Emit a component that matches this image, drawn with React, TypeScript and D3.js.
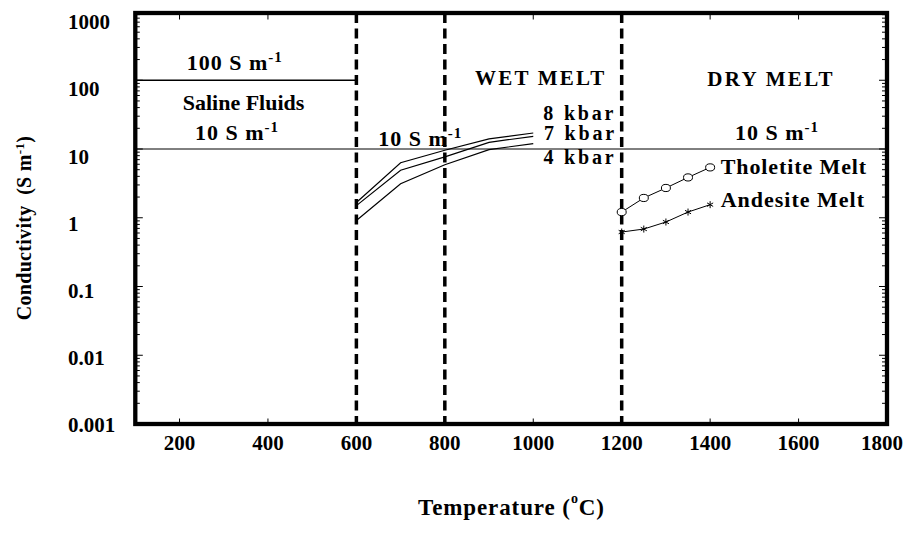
import React from "react";
import * as d3 from "d3";

// ---------- data ----------
const X_TICKS = [200, 400, 600, 800, 1000, 1200, 1400, 1600, 1800];
const Y_TICKS = [0.001, 0.01, 0.1, 1, 10, 100, 1000];
const Y_TICK_LABELS = ["0.001", "0.01", "0.1", "1", "10", "100", "1000"];

const BOUNDARIES = [600, 800, 1200];

const SALINE_HIGH_T = [100, 600];
const SALINE_HIGH_V = [100, 100];
const SALINE_LOW_T = [100, 1800];
const SALINE_LOW_V = [10, 10];

const WET_T = [600, 700, 800, 900, 1000];
const WET_8KBAR = [1.67, 6.3, 9.6, 14.0, 17.1];
const WET_7KBAR = [1.5, 4.9, 7.7, 12.5, 15.3];
const WET_4KBAR = [0.91, 3.13, 5.9, 9.8, 12.0];

const DRY_T = [1200, 1250, 1300, 1350, 1400];
const THOLEIITE = [1.21, 1.94, 2.71, 3.86, 5.4];
const ANDESITE = [0.62, 0.685, 0.867, 1.21, 1.55];

// ---------- layout ----------
const W = 905;
const H = 535;
const LEFT = 135.3;
const RIGHT = 887;
const TOP = 13;
const BOTTOM = 424;
const FONT = "'Liberation Serif', 'Times New Roman', serif";

const x = d3.scaleLinear().domain([100, 1800]).range([LEFT, RIGHT]);
const y = d3.scaleLog().domain([0.001, 1000]).range([BOTTOM, 11.5]);
const yLabel = d3.scaleLog().domain([0.001, 1000]).range([432, 29.3]);

const line = d3
  .line<[number, number]>()
  .x((d) => x(d[0]))
  .y((d) => y(d[1]));

const zip = (a: number[], b: number[]) => a.map((v, i) => [v, b[i]] as [number, number]);

const minorY: number[] = [];
for (let k = -3; k < 3; k++) {
  for (let m = 2; m <= 9; m++) minorY.push(m * Math.pow(10, k));
}

const asteriskType: any = (d3 as any).symbolAsterisk;
const asteriskPath = (size: number) => {
  if (asteriskType) return d3.symbol().type(asteriskType).size(size)() as string;
  const r = Math.sqrt(size) * 0.59436;
  const t = r / 2;
  const u = t * Math.sqrt(3);
  return `M0,${r}L0,${-r}M${-u},${-t}L${u},${t}M${-u},${t}L${u},${-t}`;
};

export default function App() {
  const textStyle = { fontFamily: FONT, fontWeight: 700 as const, fill: "#000" };
  return (
    <svg
      width={W}
      height={H}
      style={{ position: "absolute", left: 0, top: 0, background: "#fff" }}
    >
      <rect x={0} y={0} width={W} height={H} fill="#fff" />

      {/* reference conductivity lines */}
      <path d={line(zip(SALINE_HIGH_T, SALINE_HIGH_V)) || ""} stroke="#000" strokeWidth={1.4} fill="none" />
      <path d={line(zip(SALINE_LOW_T, SALINE_LOW_V)) || ""} stroke="#000" strokeWidth={1} fill="none" />

      {/* wet melt curves */}
      {[WET_8KBAR, WET_7KBAR, WET_4KBAR].map((s, i) => (
        <path key={i} d={line(zip(WET_T, s)) || ""} stroke="#000" strokeWidth={1.2} fill="none" />
      ))}

      {/* dashed boundaries */}
      {BOUNDARIES.map((t) => (
        <line
          key={t}
          x1={x(t)}
          x2={x(t)}
          y1={TOP}
          y2={BOTTOM + 6}
          stroke="#000"
          strokeWidth={3.5}
          strokeDasharray="10 5.5"
        />
      ))}

      {/* dry melt curves */}
      <path d={line(zip(DRY_T, THOLEIITE)) || ""} stroke="#000" strokeWidth={1} fill="none" />
      <path d={line(zip(DRY_T, ANDESITE)) || ""} stroke="#000" strokeWidth={1} fill="none" />
      {DRY_T.map((t, i) => (
        <ellipse
          key={"c" + i}
          cx={x(t)}
          cy={y(THOLEIITE[i])}
          rx={4.5}
          ry={3.6}
          fill="#fff"
          stroke="#000"
          strokeWidth={1}
        />
      ))}
      {DRY_T.map((t, i) => (
        <path
          key={"s" + i}
          transform={`translate(${x(t)},${y(ANDESITE[i])})`}
          d={asteriskPath(34)}
          stroke="#000"
          strokeWidth={1}
          fill="none"
        />
      ))}

      {/* axis ticks */}
      {X_TICKS.filter((t) => t < 1800).map((t) => (
        <g key={"xt" + t}>
          <line x1={x(t)} x2={x(t)} y1={BOTTOM} y2={BOTTOM - 5.5} stroke="#000" strokeWidth={1} />
          <line x1={x(t)} x2={x(t)} y1={TOP} y2={TOP + 6.5} stroke="#000" strokeWidth={1} />
        </g>
      ))}
      {Y_TICKS.map((v) => (
        <g key={"yt" + v}>
          <line x1={LEFT} x2={LEFT + 7.5} y1={y(v)} y2={y(v)} stroke="#000" strokeWidth={1} />
          <line x1={RIGHT} x2={RIGHT - 8} y1={y(v)} y2={y(v)} stroke="#000" strokeWidth={1} />
        </g>
      ))}
      {minorY.map((v) => (
        <g key={"ym" + v}>
          <line x1={LEFT} x2={LEFT + 4.5} y1={y(v)} y2={y(v)} stroke="#000" strokeWidth={1} />
          <line x1={RIGHT} x2={RIGHT - 5} y1={y(v)} y2={y(v)} stroke="#000" strokeWidth={1} />
        </g>
      ))}

      {/* frame */}
      <rect
        x={LEFT}
        y={TOP}
        width={RIGHT - LEFT}
        height={BOTTOM - TOP}
        fill="none"
        stroke="#000"
        strokeWidth={4.3}
      />

      {/* tick labels */}
      {X_TICKS.map((t) => (
        <text
          key={"xl" + t}
          x={Math.min(x(t), W - 23)}
          y={450}
          textAnchor="middle"
          fontSize={21}
          style={textStyle}
        >
          {t}
        </text>
      ))}
      {Y_TICKS.map((v, i) => (
        <text key={"yl" + v} x={68} y={yLabel(v)} fontSize={21} style={textStyle}>
          {Y_TICK_LABELS[i]}
        </text>
      ))}

      {/* annotations */}
      <text x={186.7} y={70} fontSize={22} letterSpacing={1} style={textStyle}>
        100 S m<tspan dy={-8.5} fontSize={15}>-1</tspan>
      </text>
      <text x={182.7} y={110} fontSize={22} style={textStyle}>
        Saline Fluids
      </text>
      <text x={195} y={140} fontSize={22} letterSpacing={1} style={textStyle}>
        10 S m<tspan dy={-8.5} fontSize={15}>-1</tspan>
      </text>
      <text x={378.3} y={146} fontSize={22} letterSpacing={1} style={textStyle}>
        10 S m<tspan dy={-8} fontSize={15}>-1</tspan>
      </text>
      <text x={475} y={85} fontSize={21} letterSpacing={2.2} style={textStyle}>
        WET MELT
      </text>
      <text x={543.3} y={120} fontSize={20} letterSpacing={2.8} style={textStyle}>
        8 kbar
      </text>
      <text x={544} y={140} fontSize={20} letterSpacing={2.8} style={textStyle}>
        7 kbar
      </text>
      <text x={543.5} y={164} fontSize={20} letterSpacing={2.8} style={textStyle}>
        4 kbar
      </text>
      <text x={707.3} y={86} fontSize={21} letterSpacing={2.3} style={textStyle}>
        DRY MELT
      </text>
      <text x={735} y={140} fontSize={22} letterSpacing={1} style={textStyle}>
        10 S m<tspan dy={-8.5} fontSize={15}>-1</tspan>
      </text>
      <text x={720.7} y={174.3} fontSize={22} letterSpacing={0.9} style={textStyle}>
        Tholetite Melt
      </text>
      <text x={720.7} y={206.7} fontSize={22} letterSpacing={1} style={textStyle}>
        Andesite Melt
      </text>

      {/* axis titles */}
      <text x={418} y={515} fontSize={23} letterSpacing={0.9} style={textStyle}>
        Temperature (<tspan dy={-12} fontSize={14}>o</tspan>
        <tspan dy={12}>C)</tspan>
      </text>
      <g transform="translate(31,228) rotate(-90)">
        <text x={0} y={0} textAnchor="middle" fontSize={20} letterSpacing={0.3} style={textStyle}>
          {"Conductivity\u00A0 (S m"}
          <tspan dy={-7} fontSize={13}>-1</tspan>
          <tspan dy={7}>)</tspan>
        </text>
      </g>
    </svg>
  );
}
